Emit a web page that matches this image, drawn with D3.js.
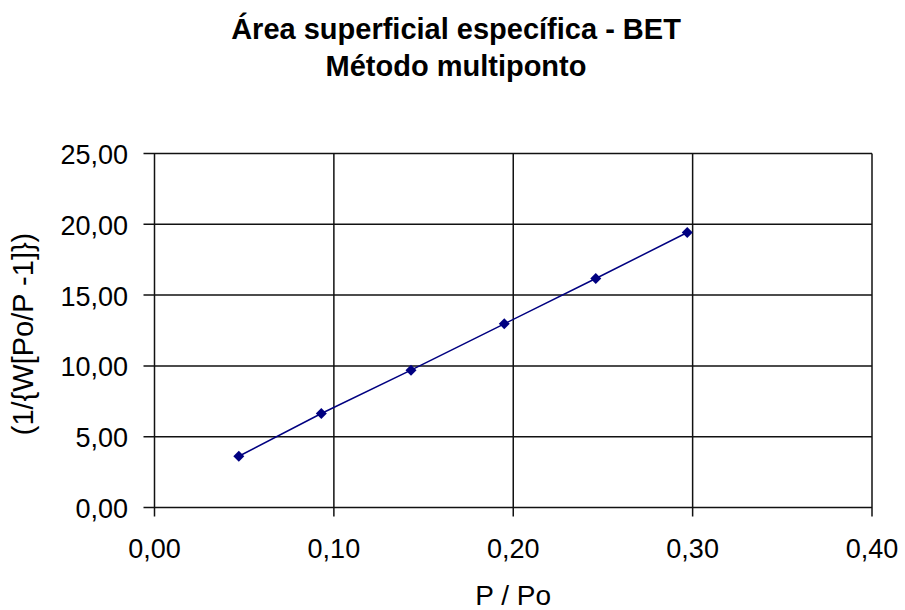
<!DOCTYPE html>
<html>
<head>
<meta charset="utf-8">
<script src="https://cdn.jsdelivr.net/npm/d3@7"></script>
<style>
    body { margin: 0; background: #fff; }
    text { font-family: Arial, "Liberation Sans", sans-serif; fill: #000; }
</style>
</head>
<body>
<svg class="svg"></svg>
<script>
const svgWidth = 905;
const svgHeight = 610;

// BET points
const pressureRatio = [0.047, 0.093, 0.143, 0.195, 0.246, 0.297];
const betValues = [3.62, 6.64, 9.70, 12.97, 16.17, 19.42];

const xTicks = [0, 0.1, 0.2, 0.3, 0.4];
const yTicks = [0, 5, 10, 15, 20, 25];
const titleLines = ["Área superficial específica - BET", "Método multiponto"];

const svg = d3.select(".svg")
    .attr("width", svgWidth)
    .attr("height", svgHeight);

const plot = { left: 154.5, right: 872, top: 153.5, bottom: 507.5 };

const xScale = d3.scaleLinear().domain([0, 0.4]).range([plot.left, plot.right]);
const yScale = d3.scaleLinear().domain([0, 25]).range([plot.bottom, plot.top]);

const comma = d => d3.format(".2f")(d).replace(".", ",");

// grid lines (they double as the plot frame)
svg.append("g").selectAll("line")
    .data(yTicks)
    .enter()
    .append("line")
    .attr("x1", plot.left - 11)
    .attr("x2", plot.right)
    .attr("y1", d => yScale(d))
    .attr("y2", d => yScale(d))
    .attr("stroke", "#111")
    .attr("stroke-width", 1.5);

svg.append("g").selectAll("line")
    .data(xTicks)
    .enter()
    .append("line")
    .attr("x1", d => xScale(d))
    .attr("x2", d => xScale(d))
    .attr("y1", plot.top)
    .attr("y2", plot.bottom + 9)
    .attr("stroke", "#111")
    .attr("stroke-width", 1.5);

// tick labels
svg.append("g").selectAll("text")
    .data(yTicks)
    .enter()
    .append("text")
    .text(comma)
    .attr("x", 128)
    .attr("y", d => yScale(d) + 1.5)
    .attr("text-anchor", "end")
    .attr("dominant-baseline", "central")
    .attr("font-size", 27);

svg.append("g").selectAll("text")
    .data(xTicks)
    .enter()
    .append("text")
    .text(comma)
    .attr("x", d => xScale(d))
    .attr("y", 549)
    .attr("text-anchor", "middle")
    .attr("dominant-baseline", "central")
    .attr("font-size", 27);

// axis titles
svg.append("text")
    .text("P / Po")
    .attr("x", (plot.left + plot.right) / 2)
    .attr("y", 605)
    .attr("text-anchor", "middle")
    .attr("font-size", 28);

svg.append("text")
    .text("(1/{W[Po/P -1]})")
    .attr("transform", "translate(23," + 334 + ") rotate(-90)")
    .attr("text-anchor", "middle")
    .attr("dominant-baseline", "central")
    .attr("font-size", 29);

// title
svg.selectAll(".title")
    .data(titleLines)
    .enter()
    .append("text")
    .classed("title", true)
    .text(d => d)
    .attr("x", 456)
    .attr("y", (d, i) => i === 0 ? 39 : 76)
    .attr("text-anchor", "middle")
    .attr("font-weight", "bold")
    .attr("font-size", 29);

// series line
const line = d3.line()
    .x((d, i) => xScale(pressureRatio[i]))
    .y(d => yScale(d));

svg.append("path")
    .datum(betValues)
    .attr("d", line)
    .attr("fill", "none")
    .attr("stroke", "#000080")
    .attr("stroke-width", 1.5);

// diamond markers
svg.append("g").selectAll("path")
    .data(betValues)
    .enter()
    .append("path")
    .attr("d", d3.symbol().type(d3.symbolSquare).size(60))
    .attr("transform", (d, i) => "translate(" + xScale(pressureRatio[i]) + "," + yScale(d) + ") rotate(45)")
    .attr("fill", "#000080");
</script>
</body>
</html>
